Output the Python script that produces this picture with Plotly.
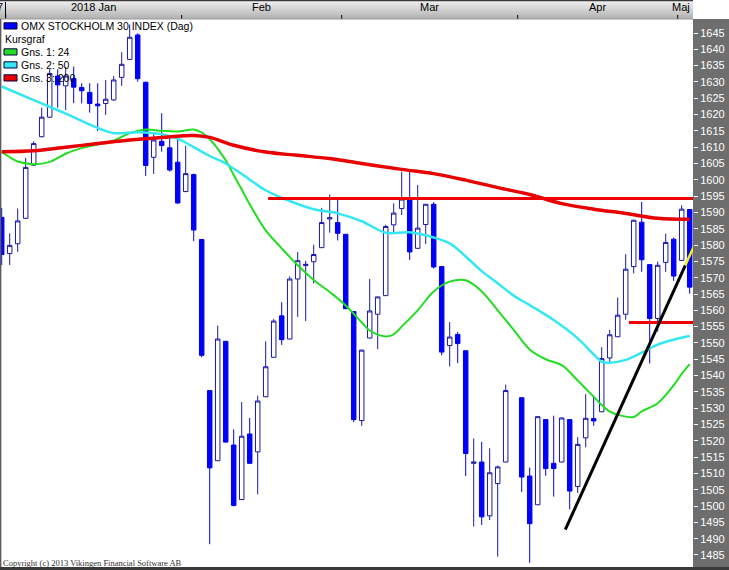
import plotly.graph_objects as go

# ------------------------------------------------------------------ data
# Daily OHLC, OMX Stockholm 30 (slot 0 = 29 Dec 2017, slot 64 = no trading)
opens = [1588.5, 1577.4, 1580.4, 1588.2, 1604.5, 1613.2, 1619.2, 1631.8, 1628.8, 1631.0,
         1628.3, 1626.8, 1623.2, 1623.4, 1624.5, 1631.4, 1636.9, 1644.4, 1629.9, 1606.9,
         1611.8, 1609.8, 1605.4, 1596.4, 1601.6, 1581.7, 1535.4, 1513.9, 1550.5, 1518.7,
         1502.0, 1522.1, 1516.6, 1533.5, 1545.6, 1558.3, 1551.2, 1569.6, 1573.7, 1574.9,
         1579.2, 1588.0, 1586.9, 1583.3, 1559.6, 1526.2, 1551.5, 1558.8, 1564.5, 1586.2,
         1591.2, 1593.9, 1579.0, 1586.3, 1592.5, 1573.4, 1549.2, 1552.6, 1547.6, 1513.1,
         1513.5, 1497.0, 1506.9, 1513.5, None, 1533.2, 1509.2, 1500.4, 1526.5, 1513.1,
         1513.5, 1526.5, 1506.0, 1520.9, 1526.8, 1528.9, 1545.4, 1551.9, 1558.8, 1573.4,
         1587.0, 1574.0, 1557.5, 1574.7, 1581.8, 1575.3, 1590.9]
highs = [1591.4, 1583.6, 1591.2, 1606.7, 1611.8, 1622.1, 1633.9, 1633.9, 1634.6, 1634.7,
         1629.6, 1629.6, 1629.6, 1630.6, 1631.8, 1639.1, 1647.6, 1644.9, 1630.1, 1614.5,
         1620.4, 1612.8, 1612.8, 1610.4, 1601.9, 1581.8, 1535.5, 1555.3, 1550.6, 1523.5,
         1531.9, 1527.0, 1533.8, 1550.5, 1557.3, 1562.5, 1570.4, 1577.9, 1575.2, 1580.1,
         1591.4, 1595.5, 1594.6, 1583.4, 1559.7, 1547.9, 1569.6, 1564.2, 1586.2, 1592.8,
         1602.5, 1602.5, 1598.4, 1592.6, 1593.2, 1573.5, 1556.4, 1553.4, 1547.7, 1520.7,
         1519.7, 1517.7, 1512.4, 1537.2, None, 1533.3, 1511.8, 1527.5, 1526.6, 1527.7,
         1527.2, 1526.6, 1521.1, 1534.3, 1533.8, 1548.7, 1554.0, 1563.9, 1577.2, 1587.8,
         1593.2, 1574.1, 1574.9, 1583.5, 1582.3, 1592.2, 1591.0]
lows = [1573.9, 1573.9, 1577.9, 1588.0, 1604.3, 1613.0, 1619.0, 1622.1, 1621.4, 1623.5,
        1623.4, 1620.6, 1615.0, 1619.9, 1624.2, 1628.8, 1636.7, 1630.1, 1601.2, 1601.8,
        1608.6, 1602.5, 1592.6, 1596.2, 1581.2, 1545.6, 1488.3, 1513.8, 1519.5, 1499.9,
        1501.9, 1513.0, 1503.6, 1533.4, 1545.5, 1549.4, 1551.1, 1558.0, 1556.7, 1568.2,
        1579.1, 1583.8, 1581.4, 1560.4, 1525.7, 1524.6, 1551.4, 1548.1, 1564.4, 1583.5,
        1589.2, 1575.4, 1578.9, 1580.3, 1572.8, 1546.2, 1542.8, 1543.8, 1509.2, 1493.7,
        1494.2, 1495.7, 1484.5, 1513.4, None, 1504.3, 1482.6, 1500.3, 1509.3, 1502.9,
        1513.4, 1499.0, 1504.0, 1518.0, 1524.6, 1528.8, 1544.2, 1551.8, 1557.1, 1571.3,
        1571.8, 1543.7, 1553.5, 1571.8, 1569.0, 1575.2, 1565.1]
closes = [1577.1, 1579.9, 1587.4, 1603.8, 1611.1, 1619.2, 1632.6, 1629.1, 1631.8, 1628.4,
          1627.3, 1623.4, 1622.7, 1624.7, 1630.6, 1635.4, 1643.7, 1631.0, 1604.4, 1612.2,
          1610.5, 1603.0, 1592.9, 1601.9, 1584.6, 1546.2, 1511.7, 1551.2, 1519.6, 1500.2,
          1521.4, 1513.1, 1532.2, 1542.7, 1556.7, 1551.0, 1569.6, 1575.2, 1574.1, 1577.1,
          1586.9, 1588.4, 1583.6, 1560.5, 1526.5, 1547.8, 1559.8, 1564.1, 1585.7, 1589.8,
          1594.1, 1577.9, 1585.2, 1592.5, 1573.3, 1547.2, 1551.8, 1549.8, 1516.1, 1513.5,
          1496.7, 1510.2, 1512.0, 1535.4, None, 1508.9, 1494.6, 1527.4, 1511.5, 1511.5,
          1527.0, 1504.6, 1518.9, 1526.9, 1526.1, 1545.2, 1552.5, 1558.5, 1572.6, 1587.6,
          1575.5, 1557.5, 1573.8, 1580.8, 1570.5, 1591.0, 1567.1]

# Moving averages (slot index, value)
ma24_x = [0, 2, 4, 6, 8, 10, 12, 14, 16, 18, 20, 22, 24, 25, 26, 27, 28, 29, 30, 31, 33,
          35, 37, 39, 41, 43, 45, 46, 48, 49, 50, 52, 54, 56, 58, 60, 62, 64, 66, 68, 70,
          72, 74, 75, 76, 77, 79, 80, 81, 82, 84, 85, 86]
ma24_y = [1608.6, 1605.6, 1604.8, 1605.5, 1608.0, 1609.7, 1610.8, 1612.0, 1614.3, 1615.4,
          1615.0, 1614.8, 1615.4, 1614.5, 1612.5, 1609.5, 1606.0, 1601.5, 1597.0, 1592.5,
          1584.5, 1579.0, 1573.8, 1569.3, 1565.6, 1561.5, 1556.3, 1553.8, 1552.0, 1552.6,
          1555.0, 1560.0, 1565.8, 1568.8, 1569.2, 1565.8, 1560.0, 1554.0, 1548.0, 1545.0,
          1543.2, 1538.5, 1533.5, 1531.0, 1529.0, 1528.0, 1527.3, 1529.0, 1530.2, 1531.5,
          1537.0, 1540.5, 1543.5]
ma50_x = [0, 4, 8, 12, 14, 17, 20, 22, 24, 26, 28, 30, 33, 36, 39, 42, 45, 48, 51, 54, 56,
          58, 60, 62, 64, 66, 69, 72, 74, 75, 76, 78, 80, 82, 84, 86]
ma50_y = [1628.6, 1624.4, 1620.3, 1615.9, 1614.3, 1614.6, 1614.0, 1612.6, 1610.0, 1607.3,
          1605.0, 1601.8, 1596.8, 1593.5, 1591.0, 1589.7, 1587.3, 1583.8, 1583.9, 1582.3,
          1580.5, 1576.5, 1572.0, 1568.3, 1564.5, 1561.6, 1557.0, 1551.4, 1546.5, 1544.2,
          1543.9, 1544.8, 1547.0, 1549.5, 1551.0, 1552.1]
ma200_x = [0, 4, 8, 12, 16, 20, 24, 26, 29, 33, 37, 41, 45, 50, 54, 58, 62, 66, 70, 74,
           78, 82, 86]
ma200_y = [1608.6, 1608.9, 1610.0, 1611.1, 1612.2, 1613.0, 1613.6, 1613.0, 1610.6, 1608.5,
           1607.5, 1606.5, 1605.0, 1603.2, 1601.9, 1599.9, 1597.6, 1595.5, 1592.7, 1591.0,
           1589.7, 1588.2, 1587.9]

# Drawn lines: resistance / support levels and trend line
resistance_x = [33.3, 87.0]
resistance_y = [1594.3, 1594.3]
support_x = [78.4, 87.0]
support_y = [1556.3, 1556.3]
trend_x = [70.45, 85.45]
trend_y = [1492.8, 1573.8]
trend_ext_x = [85.45, 86.6]
trend_ext_y = [1573.8, 1580.0]

month_labels = ["2018 Jan", "Feb", "Mar", "Apr", "Maj"]
month_slots = [22, 20, 22, 20, 2]
y_ticks = list(range(1485, 1650, 5))

legend_names = ["OMX STOCKHOLM 30 INDEX (Dag)", "Kursgraf", "Gns. 1: 24", "Gns. 2: 50", "Gns. 3: 200"]
legend_colors = ["#0000ff", None, "#22dd22", "#33e8f2", "#e80000"]

# ------------------------------------------------------------------ figure
W, H = 729, 570
ML, MR, MT, MB = 0, 36, 19, 3
PW, PH = W - ML - MR, H - MT - MB

def X(px):
    return (px - ML) / PW

def Y(py):
    return (H - MB - py) / PH

idx = [i for i in range(len(opens)) if opens[i] is not None]

fig = go.Figure()
fig.add_trace(go.Candlestick(
    x=idx,
    open=[opens[i] for i in idx], high=[highs[i] for i in idx],
    low=[lows[i] for i in idx], close=[closes[i] for i in idx],
    increasing=dict(line=dict(color="#1a1aa6", width=1), fillcolor="white"),
    decreasing=dict(line=dict(color="#0000ee", width=1), fillcolor="#0000ff"),
    whiskerwidth=0, hoverinfo="skip",
))
fig.add_trace(go.Scatter(x=ma24_x, y=ma24_y, mode="lines",
                         line=dict(color="#22dd22", width=2, shape="spline")))
fig.add_trace(go.Scatter(x=ma50_x, y=ma50_y, mode="lines",
                         line=dict(color="#33e8f2", width=2.5, shape="spline")))
fig.add_trace(go.Scatter(x=ma200_x, y=ma200_y, mode="lines",
                         line=dict(color="#e80000", width=3.5, shape="spline")))
fig.add_trace(go.Scatter(x=resistance_x, y=resistance_y, mode="lines",
                         line=dict(color="#ee0000", width=3)))
fig.add_trace(go.Scatter(x=support_x, y=support_y, mode="lines",
                         line=dict(color="#ee0000", width=3)))
fig.add_trace(go.Scatter(x=trend_x, y=trend_y, mode="lines",
                         line=dict(color="#000000", width=3)))
fig.add_trace(go.Scatter(x=trend_ext_x, y=trend_ext_y, mode="lines",
                         line=dict(color="#f2f200", width=2.5)))

x_lo = -0.2125
x_hi = 86.4125
shapes = []
annotations = []

# right price panel
shapes.append(dict(type="rect", xref="paper", yref="paper", x0=1, x1=X(W), y0=Y(H), y1=Y(MT),
                   fillcolor="#6e6e6e", line=dict(width=0), layer="below"))
# header gradient
n_bands = 18
for b in range(n_bands):
    g = int(238 - (238 - 178) * b / (n_bands - 1))
    shapes.append(dict(type="rect", xref="paper", yref="paper",
                       x0=0, x1=1, y0=Y(1 + (b + 1) * 18 / n_bands), y1=Y(1 + b * 18 / n_bands),
                       fillcolor=f"rgb({g},{g},{g})", line=dict(width=0), layer="below"))
shapes.append(dict(type="line", xref="paper", yref="paper", x0=0, x1=1, y0=Y(0.5), y1=Y(0.5),
                   line=dict(color="#3a3a3a", width=1.5)))
shapes.append(dict(type="line", xref="paper", yref="paper", x0=0, x1=1, y0=Y(19), y1=Y(19),
                   line=dict(color="#9a9a9a", width=1)))
# left and bottom borders
shapes.append(dict(type="line", xref="paper", yref="paper", x0=X(0.6), x1=X(0.6), y0=Y(H), y1=Y(19),
                   line=dict(color="#5a5a5a", width=1.5)))
shapes.append(dict(type="line", xref="paper", yref="paper", x0=0, x1=X(W), y0=Y(H - 1.5), y1=Y(H - 1.5),
                   line=dict(color="#3a3a3a", width=3)))

# month labels and boundaries
start = 1
for lab, n in zip(month_labels, month_slots):
    end = start + n - 1
    c = min((start + end) / 2, x_hi - 1.5)
    annotations.append(dict(x=c, y=Y(7), xref="x", yref="paper", text=lab, showarrow=False,
                            font=dict(family="Liberation Sans, Arial", size=11, color="#000"),
                            xanchor="center", yanchor="middle"))
    shapes.append(dict(type="line", xref="x", yref="paper", x0=start - 0.5, x1=start - 0.5,
                       y0=Y(18.5), y1=Y(15), line=dict(color="#000", width=1)))
    start = end + 1
annotations.append(dict(x=X(4.5), y=Y(7), xref="paper", yref="paper", text="7", showarrow=False,
                        font=dict(family="Liberation Sans, Arial", size=11, color="#000"),
                        xanchor="right", yanchor="middle"))
shapes.append(dict(type="line", xref="paper", yref="paper", x0=X(5.5), x1=X(5.5), y0=Y(17), y1=Y(2),
                   line=dict(color="#000", width=1)))

# legend
for i, (name, col) in enumerate(zip(legend_names, legend_colors)):
    yc = 26 + 13 * i
    if col is not None:
        shapes.append(dict(type="rect", xref="paper", yref="paper", x0=X(4), x1=X(17),
                           y0=Y(yc + 3), y1=Y(yc - 3.2), fillcolor=col,
                           line=dict(color="#00003a", width=1)))
        tx = 19
    else:
        tx = 2.5
    annotations.append(dict(x=X(tx), y=Y(yc), xref="paper", yref="paper", text=name,
                            showarrow=False, xanchor="left", yanchor="middle",
                            font=dict(family="Liberation Sans, Arial", size=10.5, color="#000")))

annotations.append(dict(x=X(0.5), y=Y(562.5), xref="paper", yref="paper",
                        text="Copyright (c) 2013 Vikingen Financial Software AB",
                        showarrow=False, xanchor="left", yanchor="middle",
                        font=dict(family="Liberation Serif, Times New Roman", size=8.5, color="#333")))

fig.update_layout(
    width=W, height=H, margin=dict(l=ML, r=MR, t=MT, b=MB, pad=0),
    paper_bgcolor="white", plot_bgcolor="white", showlegend=False,
    boxgap=0.2,
    shapes=shapes, annotations=annotations,
    xaxis=dict(range=[x_lo, x_hi], visible=False, rangeslider=dict(visible=False),
               showgrid=False, zeroline=False, fixedrange=True),
    yaxis=dict(range=[1481.32, 1649.29], side="right", tickvals=y_ticks,
               ticktext=[str(v) for v in y_ticks], ticks="outside", ticklen=4,
               tickcolor="white", tickwidth=1,
               tickfont=dict(family="Liberation Sans, Arial", size=11, color="white"),
               showgrid=False, zeroline=False, showline=False, fixedrange=True,
               automargin=False),
)

fig.write_html(
    "out.html",
    config={"displayModeBar": False, "staticPlot": True},
    post_script="document.body.style.margin='0';document.body.style.overflow='hidden';",
)
